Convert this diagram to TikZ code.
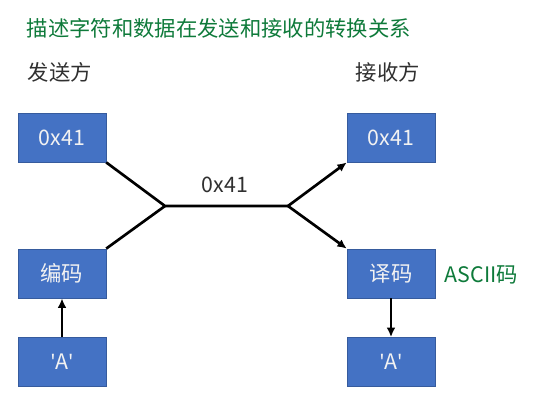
\documentclass[tikz,border=0pt]{standalone}
\usepackage{fontspec}
\setmainfont{Noto Sans CJK SC}
\newfontfamily\latinfont{Noto Sans}
\usetikzlibrary{arrows.meta,positioning}
\definecolor{boxblue}{HTML}{4472C4}
\definecolor{inkgreen}{HTML}{0E7A3A}
\definecolor{labelgray}{HTML}{303030}
\newcommand{\sq}{{\latinfont\char"27}}
\tikzset{
  databox/.style={draw=boxblue!80!black,fill=boxblue,text=white!95!black,minimum width=66pt,minimum height=37pt,inner sep=0pt,font=\fontsize{16}{16}\selectfont},
  sidelabel/.style={text=labelgray,font=\fontsize{16}{16}\selectfont},
  penlabel/.style={text=inkgreen,font=\fontsize{16}{16}\selectfont},
  wire/.style={line width=2pt,black}
}

\begin{document}
\begin{tikzpicture}[x=0.75pt,y=-0.75pt,>={Latex[length=7pt,width=6.5pt]}]
\useasboundingbox (0,0) rectangle (543,403);
\node[penlabel,anchor=west] (title) at (22,28) {描述字符和数据在发送和接收的转换关系};
\node[sidelabel,anchor=west] (sender) at (23,72) {发送方};
\node[sidelabel,anchor=west] (receiver) at (351,72) {接收方};
% sender side
\node[databox] (sendhex) at (62,137.5) {0x41};
\node[databox] (encode) at (62,273.5) {编码};
\node[databox] (sendchar) at (62,362) {\sq A\sq};
% receiver side
\node[databox] (recvhex) at (391,137.5) {0x41};
\node[databox] (decode) at (391,273.5) {译码};
\node[databox] (recvchar) at (391,362) {\sq A\sq};
\node[penlabel,anchor=west] (ascii) at (440,275) {ASCII码};
% channel
\coordinate (joinl) at (165,206);
\coordinate (joinr) at (288,206);
\node[sidelabel] (wirehex) at (225,185) {0x41};
\draw[wire] (sendhex.south east) -- (joinl) -- (joinr);
\draw[wire] (encode.north east) -- (joinl);
\draw[wire,->] (joinr) -- (recvhex.south west);
\draw[wire,->] (joinr) -- (decode.north west);
\draw[wire,->] (sendchar) -- (encode);
\draw[wire,->] (decode) -- (recvchar);
\end{tikzpicture}
\end{document}
